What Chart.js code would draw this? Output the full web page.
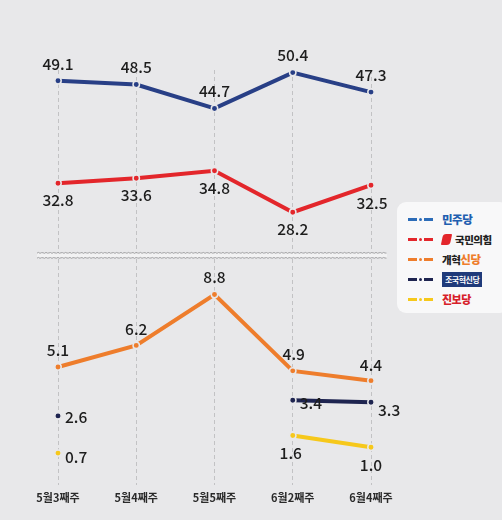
<!DOCTYPE html>
<html>
<head>
<meta charset="utf-8">
<script src="https://cdn.jsdelivr.net/npm/chart.js@4.4.1/dist/chart.umd.min.js"></script>
<style>
html, body { margin: 0; padding: 0; background: #e8e8ea; }
#wrap { position: relative; width: 502px; height: 520px; overflow: hidden; font-family: "Noto Sans CJK KR", sans-serif; }
#chart { position: absolute; left: 0; top: 0; }
.legend { position: absolute; left: 397px; top: 202px; width: 112px; height: 111px; background: #f8f8f9; border-radius: 9px; }
.legend .item { position: absolute; left: 11px; height: 16px; display: flex; align-items: center; }
.sym { display: flex; align-items: center; width: 27px; margin-right: 7px; }
.sym i { display: block; width: 9px; height: 3px; }
.sym b { display: block; width: 3px; height: 3px; border-radius: 50%; margin: 0 2px; }
.nm { font-weight: 900; font-size: 10.5px; letter-spacing: -0.5px; white-space: nowrap; }
</style>
</head>
<body>
<div id="wrap">
  <canvas id="chart" width="502" height="520"></canvas>
  <div class="legend" id="legend"></div>
</div>
<script>
const weeks = ['5월3째주', '5월4째주', '5월5째주', '6월2째주', '6월4째주'];
const minjoo = [49.1, 48.5, 44.7, 50.4, 47.3];
const ppp = [32.8, 33.6, 34.8, 28.2, 32.5];
const reform = [5.1, 6.2, 8.8, 4.9, 4.4];
const rebuild = [2.6, null, null, 3.4, 3.3];
const jinbo = [0.7, null, null, 1.6, 1.0];

const bg = '#e8e8ea';

// where each value label sits relative to its point [dx, dy]
const labelAt = {
  minjoo: [[0, -17], [0, -17], [0, -17], [0, -17], [0, -17]],
  ppp: [[0, 17], [0, 17], [0, 17], [0, 17], [1, 18]],
  reform: [[0, -17], [0, -16], [0, -17], [1, -17], [0, -16]],
  rebuild: [[21, 1], null, null, [16, 3], [18, 8]],
  jinbo: [[21, 4], null, null, [-2, 18], [0, 18]]
};

function series(label, data, color, axis, key) {
  return {
    label: label,
    data: data,
    yAxisID: axis,
    borderColor: color,
    backgroundColor: color,
    borderWidth: 4,
    pointRadius: 3.2,
    pointBorderWidth: 1.5,
    pointBorderColor: bg,
    pointBackgroundColor: color,
    spanGaps: false,
    tension: 0,
    clip: false,
    labelAt: labelAt[key]
  };
}

const valueLabels = {
  id: 'valueLabels',
  afterDatasetsDraw(chart) {
    const ctx = chart.ctx;
    ctx.save();
    ctx.font = '500 15.5px "Noto Sans CJK KR"';
    ctx.fillStyle = '#1d1d1d';
    ctx.textBaseline = 'middle';
    chart.data.datasets.forEach((ds, i) => {
      chart.getDatasetMeta(i).data.forEach((pt, j) => {
        const v = ds.data[j];
        if (v == null) return;
        const off = ds.labelAt[j];
        ctx.textAlign = off[0] > 10 ? 'left' : 'center';
        const x = off[0] > 10 ? pt.x + 7 : pt.x + off[0];
        ctx.fillText(v.toFixed(1), x, pt.y + off[1]);
      });
    });
    ctx.restore();
  }
};

// wavy double line marking the broken axis
const axisBreak = {
  id: 'axisBreak',
  beforeDatasetsDraw(chart) {
    const ctx = chart.ctx;
    const y = chart.scales.yBot.getPixelForValue(10.8);
    const x0 = 37, x1 = 387;
    ctx.save();
    ctx.fillStyle = '#f2f2f3';
    ctx.fillRect(x0, y - 2.5, x1 - x0, 5);
    ctx.strokeStyle = '#9a9a9c';
    ctx.lineWidth = 0.9;
    [-2.5, 2.5].forEach(d => {
      ctx.beginPath();
      for (let x = x0; x <= x1; x += 1.5) {
        const yy = y + d + Math.sin(x * 1.6) * 0.5;
        if (x === x0) ctx.moveTo(x, yy); else ctx.lineTo(x, yy);
      }
      ctx.stroke();
    });
    ctx.restore();
  }
};

new Chart(document.getElementById('chart'), {
  type: 'line',
  data: {
    labels: weeks,
    datasets: [
      series('민주당', minjoo, '#283f86', 'yTop', 'minjoo'),
      series('국민의힘', ppp, '#e3262b', 'yTop', 'ppp'),
      series('개혁신당', reform, '#ee7d2c', 'yBot', 'reform'),
      series('조국혁신당', rebuild, '#1e2450', 'yBot', 'rebuild'),
      series('진보당', jinbo, '#f6c81b', 'yBot', 'jinbo')
    ]
  },
  options: {
    responsive: false,
    animation: false,
    layout: { padding: { top: 70, left: 58, right: 131, bottom: 10 } },
    plugins: { legend: { display: false }, tooltip: { enabled: false } },
    scales: {
      x: {
        offset: false,
        grid: { color: '#c2c2c4', lineWidth: 1, drawTicks: false },
        border: { display: false, dash: [4, 3] },
        ticks: { color: '#2a2a2a', padding: 6, font: { family: '"Noto Sans CJK KR"', size: 11, weight: 'bold' } }
      },
      yTop: { display: false, min: -15.12, max: 50.81 },
      yBot: { display: false, min: -0.92, max: 20.27 }
    }
  },
  plugins: [axisBreak, valueLabels]
});

const legendItems = [
  { color: '#2c6cb8', html: '<span style="color:#1f5fb0;font-size:11.5px">민주당</span>' },
  { color: '#e3262b', html: '<span style="display:inline-block;width:9px;height:11px;background:#e3262b;border-radius:3px 1px 3px 1px;transform:skewX(-12deg);margin-right:4px;vertical-align:-1px"></span><span style="color:#222">국민의힘</span>' },
  { color: '#ee7d2c', html: '<span style="color:#222">개혁</span><span style="color:#ee7d2c;font-size:11.5px">신당</span>' },
  { color: '#1e2450', html: '<span style="display:inline-block;background:#1f3a7a;color:#fff;font-size:8px;padding:2px 3px;font-weight:700">조국혁신당</span>' },
  { color: '#f6c81b', html: '<span style="color:#d71f2b;font-size:11px">진보당</span>' }
];
const legend = document.getElementById('legend');
legendItems.forEach((it, i) => {
  const d = document.createElement('div');
  d.className = 'item';
  d.style.top = (9 + i * 20) + 'px';
  d.innerHTML = '<span class="sym"><i style="background:' + it.color + '"></i><b style="background:' + it.color +
    '"></b><i style="background:' + it.color + '"></i></span><span class="nm">' + it.html + '</span>';
  legend.appendChild(d);
});
</script>
</body>
</html>
